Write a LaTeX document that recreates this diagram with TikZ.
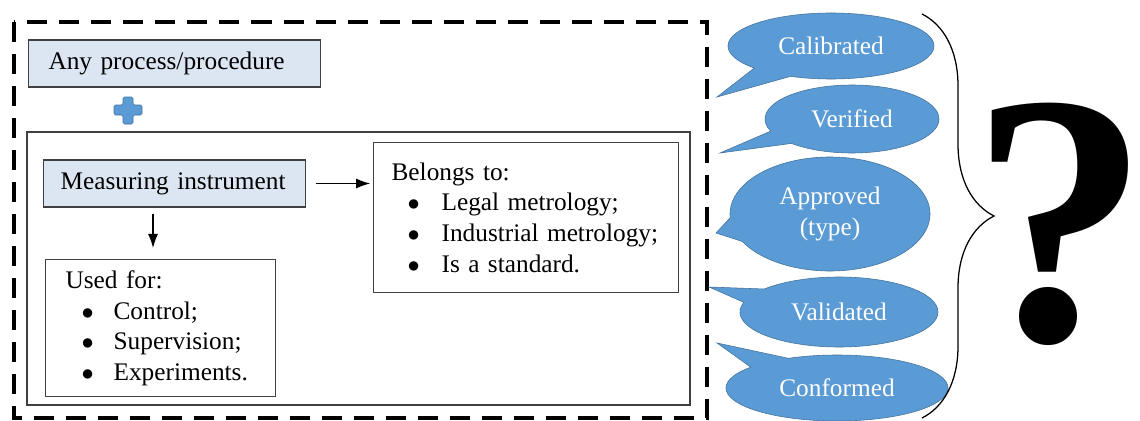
\documentclass[tikz,border=0pt]{standalone}
\usepackage{fontspec}
\setmainfont{Liberation Serif}
\usetikzlibrary{positioning}
\usetikzlibrary{shapes.callouts}
\usetikzlibrary{decorations.pathreplacing}
\usetikzlibrary{arrows.meta}

\definecolor{boxblue}{HTML}{DCE6F2}
\definecolor{bubblefill}{HTML}{5B9BD5}
\definecolor{bubbleedge}{HTML}{41719C}
\definecolor{boxedge}{HTML}{404040}

\newcommand{\bul}[2][1.25cm]{\makebox[#1][l]{\hspace{0.4cm}$\bullet$}#2}

\begin{document}
\begin{tikzpicture}[x=0.025cm, y=-0.025cm, >={Latex[length=0.35cm,width=0.25cm]}, every node/.style={font=\fontsize{18}{21.8}\selectfont}]
        \tikzset{
          bluebox/.style={draw=boxedge, fill=boxblue, rectangle, line width=0.8pt, minimum height=1.175cm, align=left, anchor=west},
          listbox/.style={draw=boxedge, rectangle, line width=0.85pt, align=left, anchor=north west},
          bubble/.style={ellipse callout, fill=bubblefill, draw=bubbleedge, text=white, inner sep=0pt, callout pointer arc=25, align=center}
        }
        \useasboundingbox (0,0) rectangle (1140,421);

        % Dashed frame around everything on the left
        \draw[line width=2.8pt, dash pattern=on 0.5cm off 0.3cm] (14,22) rectangle (707,418);

        % First part: process / procedure
        \node[bluebox, text width=6.3cm, inner xsep=0.5cm] (anyproc) at (28,63.5) {Any process/procedure};
        % Plus sign
        \filldraw[fill=bubblefill, draw=bubbleedge, rounded corners=1pt] (123,97) -- (133,97) -- (133,105) -- (142,105) -- (142,115) -- (133,115) -- (133,124) -- (123,124) -- (123,115) -- (114,115) -- (114,105) -- (123,105) -- cycle;

        % Second part: measuring instrument
        \draw[boxedge, line width=0.8pt] (27,132) rectangle (690,405);
        \node[bluebox, text width=5.7cm, inner xsep=0.425cm] (measure) at (43,183.5) {Measuring instrument};
        % Belongs to
        \node[listbox, text width=6.725cm, inner xsep=0.45cm, minimum height=3.75cm] (belongs) at (373,142)
          {Belongs to:\\ \bul{Legal metrology;}\\ \bul{Industrial metrology;}\\ \bul{Is a standard.}};
        % Used for
        \node[listbox, text width=4.75cm, inner xsep=0.5cm, minimum height=3.425cm] (usedfor) at (45,259)
          {Used for:\\ \bul[1.2cm]{Control;}\\ \bul[1.2cm]{Supervision;}\\ \bul[1.2cm]{Experiments.}};
        % Arrows from the instrument
        \draw[->, line width=0.9pt, shorten <=0.25cm, shorten >=0.07cm] (measure.east) -- (measure.east -| belongs.west);
        \draw[->, line width=0.9pt, shorten <=0.15cm, shorten >=0.275cm] ([xshift=2.75cm]measure.south west) -- ([xshift=2.75cm]measure.south west |- usedfor.north);

        % Speech bubbles
        \node[bubble, minimum width=5.15cm, minimum height=1.65cm, callout absolute pointer={(717,97)}] (calibrated) at (831,46) {Calibrated};
        \node[bubble, minimum width=4.35cm, minimum height=1.7cm, callout absolute pointer={(720,153)}] (verified) at (852,119) {Verified};
        \node[bubble, minimum width=5cm, minimum height=2.85cm, callout absolute pointer={(716,233)}] (approved) at (830,214) {Approved\\(type)};
        \node[bubble, minimum width=4.95cm, minimum height=1.75cm, callout absolute pointer={(709,287)}] (validated) at (839,312) {Validated};
        \node[bubble, minimum width=5.55cm, minimum height=1.65cm, callout absolute pointer={(717,343)}] (conformed) at (837,388) {Conformed};

        % Brace and question mark
        \coordinate (bracetop) at (922,14);
        \coordinate (bracebot) at (922,418);
        \draw[decorate, decoration={brace, amplitude=1.8cm}, line width=0.9pt] (bracetop) -- (bracebot);
        \node[font=\fontsize{255}{255}\selectfont\bfseries, inner sep=0pt, anchor=base] (qmark) at (1060,340) {\makebox[3.4cm]{?}};
    \end{tikzpicture}
\end{document}
